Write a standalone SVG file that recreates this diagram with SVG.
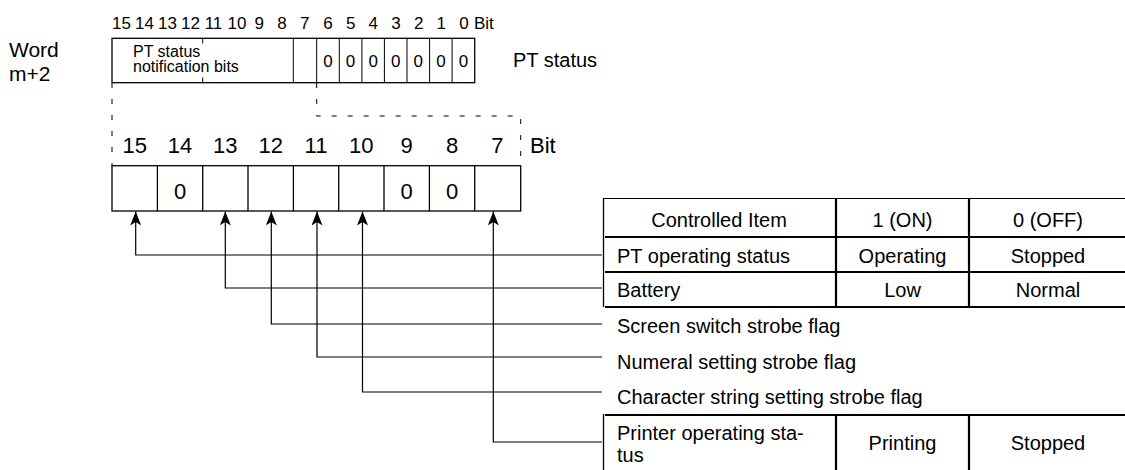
<svg xmlns="http://www.w3.org/2000/svg" width="1125" height="470" viewBox="0 0 1125 470">
<defs>
<style>
text{font-family:"Liberation Sans",Arial,sans-serif;fill:#000}
.t21{font-size:21px}
.t20{font-size:20px}
.t22{font-size:22px}
.t17{font-size:17px}
.t16{font-size:16px}
.mid{text-anchor:middle}
.ln{stroke:#000;stroke-width:1.3;fill:none}
.thin{stroke:#000;stroke-width:1;fill:none}
.thick{stroke:#000;stroke-width:2.2;fill:none}
.dash{stroke:#000;stroke-width:1;fill:none;stroke-dasharray:5 11}
.conn{stroke:#000;stroke-width:1.2;fill:none;marker-end:url(#arr)}
</style>
<marker id="arr" viewBox="0 0 14 11" refX="14" refY="5.5" markerWidth="14" markerHeight="11" markerUnits="userSpaceOnUse" orient="auto">
<path d="M0,0 L14,5.5 L0,11 L3.5,5.5 Z" fill="#000"/>
</marker>
</defs>

<g id="word-label">
<text class="t21" x="9" y="57">Word</text>
<text class="t21" x="9" y="80.5">m+2</text>
</g>

<g id="top-bit-labels">
<text class="t17 mid" x="121.5" y="28.5">15</text>
<text class="t17 mid" x="144.5" y="28.5">14</text>
<text class="t17 mid" x="167.5" y="28.5">13</text>
<text class="t17 mid" x="190.5" y="28.5">12</text>
<text class="t17 mid" x="213.5" y="28.5">11</text>
<text class="t17 mid" x="237" y="28.5">10</text>
<text class="t17 mid" x="259.3" y="28.5">9</text>
<text class="t17 mid" x="282" y="28.5">8</text>
<text class="t17 mid" x="304.7" y="28.5">7</text>
<text class="t17 mid" x="328" y="28.5">6</text>
<text class="t17 mid" x="350.7" y="28.5">5</text>
<text class="t17 mid" x="373.3" y="28.5">4</text>
<text class="t17 mid" x="396" y="28.5">3</text>
<text class="t17 mid" x="418.7" y="28.5">2</text>
<text class="t17 mid" x="441.3" y="28.5">1</text>
<text class="t17 mid" x="464" y="28.5">0</text>
<text class="t17" x="474" y="28.5">Bit</text>
</g>

<g id="word-register">
<rect class="ln" x="112" y="38.3" width="362.7" height="44.4"/>
<path class="thin" d="M202.7,38.3V43.5M202.7,77.5V82.7M293.3,38.3V82.7M316.7,38.3V82.7M339.3,38.3V82.7M361.9,38.3V82.7M384.4,38.3V82.7M407,38.3V82.7M429.6,38.3V82.7M452.1,38.3V82.7"/>
<text class="t16" x="133" y="57">PT status</text>
<text class="t16" x="133" y="72">notification bits</text>
<text class="t17 mid" x="328" y="67">0</text>
<text class="t17 mid" x="350.6" y="67">0</text>
<text class="t17 mid" x="373.2" y="67">0</text>
<text class="t17 mid" x="395.7" y="67">0</text>
<text class="t17 mid" x="418.3" y="67">0</text>
<text class="t17 mid" x="440.9" y="67">0</text>
<text class="t17 mid" x="463.4" y="67">0</text>
</g>

<g id="pt-status-label">
<text class="t20" x="513" y="67">PT status</text>
</g>

<g id="expansion-dashes">
<path class="dash" d="M112,83V165.7"/>
<path class="dash" d="M316.7,83V116H520.7V165.7"/>
</g>

<g id="lower-bit-labels">
<text class="t22 mid" x="134.7" y="153">15</text>
<text class="t22 mid" x="180" y="153">14</text>
<text class="t22 mid" x="225.3" y="153">13</text>
<text class="t22 mid" x="270.7" y="153">12</text>
<text class="t22 mid" x="316" y="153">11</text>
<text class="t22 mid" x="361.3" y="153">10</text>
<text class="t22 mid" x="406.7" y="153">9</text>
<text class="t22 mid" x="452" y="153">8</text>
<text class="t22 mid" x="497.3" y="153">7</text>
<text class="t22" x="530" y="153">Bit</text>
</g>

<g id="bit-register">
<rect class="ln" x="112" y="165.7" width="408.7" height="45.3"/>
<path class="ln" d="M157.4,165.7V211M202.7,165.7V211M248,165.7V211M293.4,165.7V211M338.7,165.7V211M384,165.7V211M429.4,165.7V211M474.7,165.7V211"/>
<text class="t22 mid" x="180" y="198.5">0</text>
<text class="t22 mid" x="406.7" y="198.5">0</text>
<text class="t22 mid" x="452" y="198.5">0</text>
</g>

<g id="connectors">
<path class="conn" d="M602,255H135.7V211.5"/>
<path class="conn" d="M602,288H225.3V211.5"/>
<path class="conn" d="M602,324H271.3V211.5"/>
<path class="conn" d="M602,357H317V211.5"/>
<path class="conn" d="M602,392H362.5V211.5"/>
<path class="conn" d="M602,442H493.3V211.5"/>
</g>

<g id="table-header">
<path class="thin" d="M603.5,198.5H1125"/>
<path class="ln" d="M603.5,198V307"/>
<path class="thick" d="M836,198V307M969,198V307"/>
<path class="thick" d="M605,237H1125M605,272H1125M605,307H1125"/>
<text class="t20 mid" x="719" y="226.5">Controlled Item</text>
<text class="t20 mid" x="902.5" y="226.5">1 (ON)</text>
<text class="t20 mid" x="1048" y="226.5">0 (OFF)</text>
</g>

<g id="row-pt-operating">
<text class="t20" x="617" y="262.5">PT operating status</text>
<text class="t20 mid" x="902.5" y="262.5">Operating</text>
<text class="t20 mid" x="1048" y="262.5">Stopped</text>
</g>

<g id="row-battery">
<text class="t20" x="617" y="297">Battery</text>
<text class="t20 mid" x="902.5" y="297">Low</text>
<text class="t20 mid" x="1048" y="297">Normal</text>
</g>

<g id="row-screen">
<text class="t20" x="617" y="333">Screen switch strobe flag</text>
</g>

<g id="row-numeral">
<text class="t20" x="617" y="369">Numeral setting strobe flag</text>
</g>

<g id="row-character">
<text class="t20" x="617" y="403.5">Character string setting strobe flag</text>
</g>

<g id="row-printer">
<path class="thick" d="M605,415H1125"/>
<path class="ln" d="M603.5,414V470"/>
<path class="thick" d="M836,415V470M969,415V470"/>
<text class="t20" x="617" y="440">Printer operating sta-</text>
<text class="t20" x="617" y="462">tus</text>
<text class="t20 mid" x="902.5" y="450">Printing</text>
<text class="t20 mid" x="1048" y="450">Stopped</text>
</g>
</svg>
